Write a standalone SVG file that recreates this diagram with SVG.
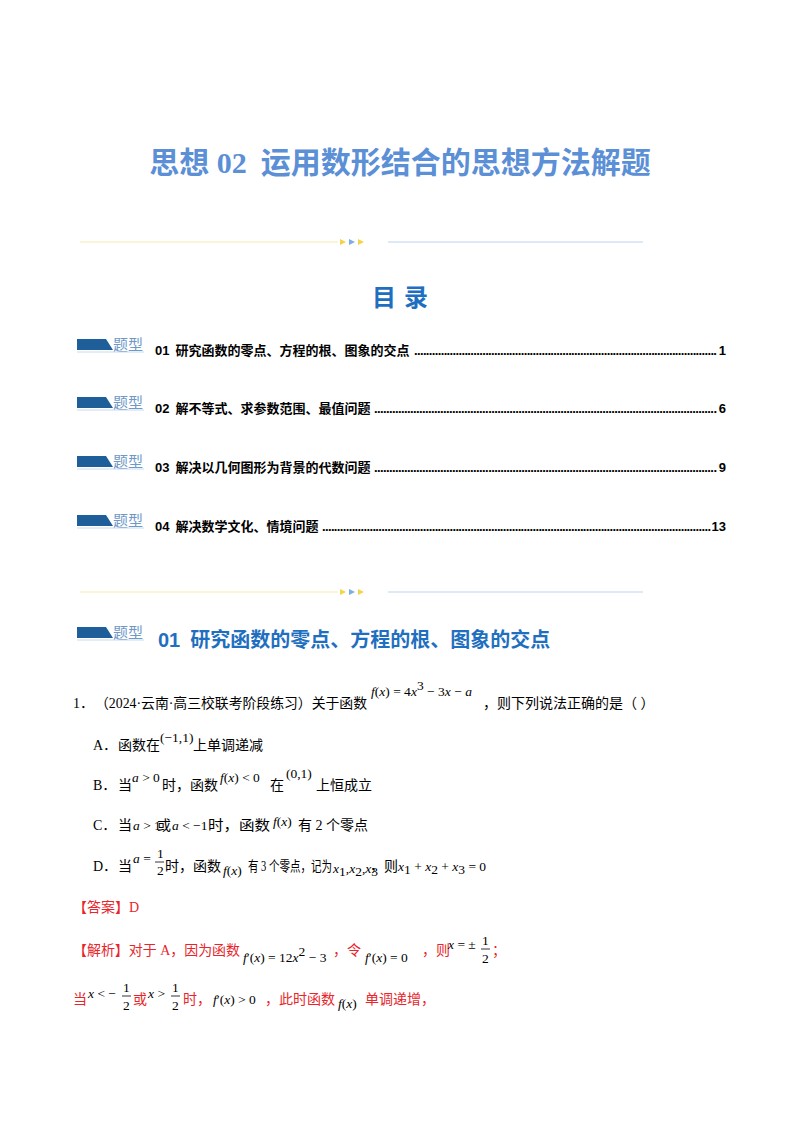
<svg xmlns="http://www.w3.org/2000/svg" width="800" height="1132" viewBox="0 0 800 1132">
<style>
.cn{font-family:"Liberation Serif","Noto Sans CJK SC",serif;font-size:14px;fill:#000}
.m{font-family:"Times New Roman","Liberation Serif","DejaVu Serif",serif;font-size:13.5px;font-style:italic;fill:#000}
.mn{font-family:"Times New Roman","Liberation Serif","DejaVu Serif",serif;font-size:13.5px;font-style:normal;fill:#000}
.toc{font-family:"Liberation Sans","Noto Sans CJK SC",sans-serif;font-size:13px;font-weight:bold;fill:#000}
.red{fill:#E8252A}
.badge-t{font-family:"Liberation Serif","Noto Sans CJK SC",serif;font-size:15px;fill:#6E98C8}
</style>
<defs>
<g id="badge">
<path d="M0,0 H29 L36,11 H0 Z" fill="#1F5F99"/>
<text x="36" y="11" class="badge-t">题型</text>
<line x1="0" y1="13" x2="67" y2="13" stroke="#C9DCEF" stroke-width="1"/>
</g>
<g id="divider">
<line x1="80" y1="0" x2="338" y2="0" stroke="#F7EBB0" stroke-width="1.2"/>
<path d="M340,-3 l6,3 l-6,3z" fill="#F4D24A"/>
<path d="M349,-3 l6,3 l-6,3z" fill="#7AAEE6"/>
<path d="M358,-3 l6,3 l-6,3z" fill="#F4D24A"/>
<line x1="388" y1="0" x2="643" y2="0" stroke="#BBD4F0" stroke-width="1.2"/>
</g>
</defs>
<rect width="800" height="1132" fill="#fff"/>
<g id="title"><text x="400" y="173" text-anchor="middle" font-family="Liberation Serif,Noto Sans CJK SC,serif" font-size="30" font-weight="bold" fill="#5B8FD6">思想 02<tspan dx="14">运用数形结合的思想方法解题</tspan></text></g>
<use href="#divider" y="242"/>
<g id="mulu"><text x="404" y="306" text-anchor="middle" font-family="Liberation Sans,Noto Sans CJK SC,sans-serif" font-size="24" font-weight="bold" fill="#1F6FC0" letter-spacing="8">目录</text></g>
<g id="toc">
<use href="#badge" x="77" y="339"/>
<text x="155" y="355" class="toc">01<tspan dx="6">研究函数的零点、方程的根、图象的交点</tspan></text>
<text x="414" y="355" class="toc" textLength="303" lengthAdjust="spacing">......................................................................................................</text>
<text x="726" y="355" class="toc" text-anchor="end">1</text>
<use href="#badge" x="77" y="397"/>
<text x="155" y="413" class="toc">02<tspan dx="6">解不等式、求参数范围、最值问题</tspan></text>
<text x="374" y="413" class="toc" textLength="343" lengthAdjust="spacing">..................................................................................................................</text>
<text x="726" y="413" class="toc" text-anchor="end">6</text>
<use href="#badge" x="77" y="456"/>
<text x="155" y="472" class="toc">03<tspan dx="6">解决以几何图形为背景的代数问题</tspan></text>
<text x="374" y="472" class="toc" textLength="343" lengthAdjust="spacing">..................................................................................................................</text>
<text x="726" y="472" class="toc" text-anchor="end">9</text>
<use href="#badge" x="77" y="515"/>
<text x="155" y="531" class="toc">04<tspan dx="6">解决数学文化、情境问题</tspan></text>
<text x="322" y="531" class="toc" textLength="389" lengthAdjust="spacing">...................................................................................................................................</text>
<text x="726" y="531" class="toc" text-anchor="end">13</text>
</g>
<use href="#divider" y="592"/>
<g id="section">
<use href="#badge" x="77" y="627"/>
<text x="158" y="647" font-family="Liberation Sans,Noto Sans CJK SC,sans-serif" font-size="20" font-weight="bold" fill="#1F6FC0">01<tspan dx="10">研究函数的零点、方程的根、图象的交点</tspan></text>
</g>
<g id="question">
<text x="73" y="708" class="cn">1．</text>
<text x="95" y="708" class="cn" textLength="272" lengthAdjust="spacingAndGlyphs">（2024·云南·高三校联考阶段练习）关于函数</text>
<text x="371" y="696" class="m">f<tspan class="mn">(</tspan>x<tspan class="mn">) = 4</tspan>x<tspan class="mn" font-size="8" dy="-6">3</tspan><tspan class="mn" dy="6"> − 3</tspan>x<tspan class="mn"> − </tspan>a</text>
<text x="483" y="708" class="cn">，则下列说法正确的是（    ）</text>

<text x="93" y="750" class="cn">A．</text><text x="118" y="750" class="cn">函数在</text><text x="160" y="742" class="mn">(−1,1)</text><text x="193" y="750" class="cn">上单调递减</text>

<text x="93" y="790" class="cn">B．</text><text x="118" y="790" class="cn">当</text><text x="132" y="782" class="m">a<tspan class="mn"> &gt; 0</tspan></text><text x="162" y="790" class="cn">时，函数</text><text x="220" y="782" class="m">f<tspan class="mn">(</tspan>x<tspan class="mn">) &lt; 0</tspan></text><text x="270" y="790" class="cn">在</text><text x="286" y="778" class="mn">(0,1)</text><text x="316" y="790" class="cn">上恒成立</text>

<text x="93" y="830" class="cn">C．</text><text x="118" y="830" class="cn">当</text><text x="133" y="830" class="m">a<tspan class="mn"> &gt; 1</tspan></text><text x="157" y="830" class="cn">或</text><text x="172" y="830" class="m">a<tspan class="mn"> &lt; −1</tspan></text><text x="208" y="830" class="cn" textLength="62" lengthAdjust="spacingAndGlyphs">时，函数</text><text x="273" y="826" class="m">f<tspan class="mn">(</tspan>x<tspan class="mn">)</tspan></text><text x="298" y="830" class="cn">有 2 个零点</text>

<text x="93" y="871" class="cn">D．</text><text x="118" y="871" class="cn">当</text><text x="133" y="863" class="m">a<tspan class="mn"> =</tspan></text>
<text x="157" y="858" class="mn" font-size="12">1</text><line x1="155" y1="862" x2="164" y2="862" stroke="#000" stroke-width="0.8"/><text x="157" y="875" class="mn" font-size="12">2</text>
<text x="165" y="871" class="cn">时，函数</text><text x="223" y="875" class="m">f<tspan class="mn">(</tspan>x<tspan class="mn">)</tspan></text><text x="248" y="871" class="cn" textLength="84" lengthAdjust="spacingAndGlyphs">有 3 个零点，记为</text>
<text x="333" y="873" class="m">x<tspan class="mn" font-size="8" dy="3">1</tspan><tspan class="mn" dy="-3">,</tspan>x<tspan class="mn" font-size="8" dy="3">2</tspan><tspan class="mn" dy="-3">,</tspan>x<tspan class="mn" font-size="8" dy="3">3</tspan></text>
<text x="370" y="871" class="cn">，则</text>
<text x="398" y="871" class="m">x<tspan class="mn" font-size="8" dy="3">1</tspan><tspan class="mn" dy="-3"> + </tspan>x<tspan class="mn" font-size="8" dy="3">2</tspan><tspan class="mn" dy="-3"> + </tspan>x<tspan class="mn" font-size="8" dy="3">3</tspan><tspan class="mn" dy="-3"> = 0</tspan></text>
</g>
<g id="answer">
<text x="73" y="912" class="cn red">【答案】D</text>
<text x="73" y="955" class="cn red" textLength="167" lengthAdjust="spacingAndGlyphs">【解析】对于 A，因为函数</text>
<text x="243" y="962" class="m">f<tspan class="mn">′(</tspan>x<tspan class="mn">) = 12</tspan>x<tspan class="mn" font-size="8" dy="-6">2</tspan><tspan class="mn" dy="6"> − 3</tspan></text>
<text x="333" y="955" class="cn red">，令</text>
<text x="365" y="962" class="m">f<tspan class="mn">′(</tspan>x<tspan class="mn">) = 0</tspan></text>
<text x="422" y="955" class="cn red">，则</text>
<text x="448" y="949" class="m">x<tspan class="mn"> = ±</tspan></text>
<text x="482" y="945" class="mn">1</text><line x1="481" y1="949" x2="490" y2="949" stroke="#000" stroke-width="0.8"/><text x="482" y="963" class="mn">2</text>
<text x="492" y="955" class="cn red">；</text>
<text x="73" y="1004" class="cn red">当</text>
<text x="88" y="998" class="m">x<tspan class="mn"> &lt; −</tspan></text>
<text x="123" y="992" class="mn">1</text><line x1="122" y1="996" x2="131" y2="996" stroke="#000" stroke-width="0.8"/><text x="123" y="1010" class="mn">2</text>
<text x="133" y="1004" class="cn red">或</text>
<text x="148" y="998" class="m">x<tspan class="mn"> &gt;</tspan></text>
<text x="172" y="992" class="mn">1</text><line x1="171" y1="996" x2="180" y2="996" stroke="#000" stroke-width="0.8"/><text x="172" y="1010" class="mn">2</text>
<text x="183" y="1004" class="cn red">时，</text>
<text x="213" y="1004" class="m">f<tspan class="mn">′(</tspan>x<tspan class="mn">) &gt; 0</tspan></text>
<text x="265" y="1004" class="cn red">，此时函数</text>
<text x="338" y="1008" class="m">f<tspan class="mn">(</tspan>x<tspan class="mn">)</tspan></text>
<text x="365" y="1004" class="cn red">单调递增，</text>
</g>
</svg>
